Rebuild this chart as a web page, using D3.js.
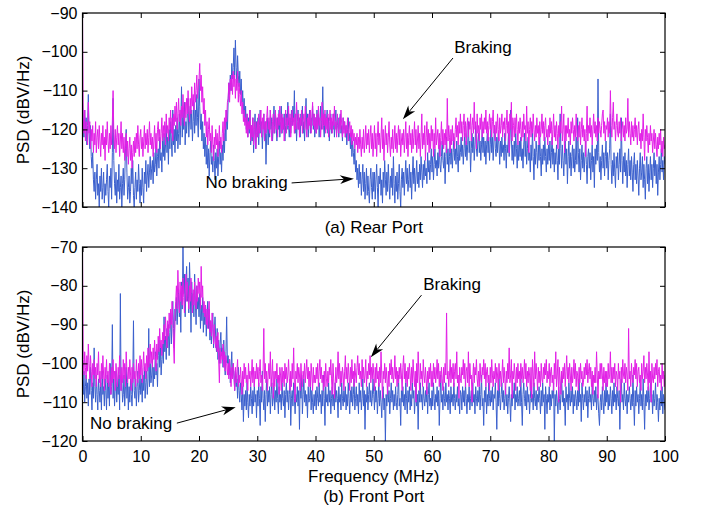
<!DOCTYPE html>
<html>
<head>
<meta charset="utf-8">
<script src="https://cdn.jsdelivr.net/npm/d3@7"></script>
<style>
  body { margin: 0; background: #fff; }
  text { font-family: "Liberation Sans", Arial, Helvetica, sans-serif; fill: #000; }
</style>
</head>
<body>
<svg id="chart" width="707" height="512"></svg>
<script>
// Each PSD trace is sampled evenly from 0 to FREQ_MAX MHz.
const FREQ_MAX = 100;
const xTicks = [0, 10, 20, 30, 40, 50, 60, 70, 80, 90, 100];
const rearYTicks = [-140, -130, -120, -110, -100, -90];
const frontYTicks = [-120, -110, -100, -90, -80, -70];

// Rear port, no braking (dBV/Hz), 0.125 MHz spacing
const rearNoBrake = [
  -113,-118,-122,-115,-120,-117,-124,-119, -111,-121,-125,-119,-127,-130,-126,-133, -136,-131,-138,-133,-129,-137,-134,-140, -132,-136,-130,-138,-135,-131,-139,-134, -137,-133,-129,-136,-140,-132,-135,-130,
  -138,-126,-112,-128,-134,-137,-131,-139, -133,-136,-129,-138,-135,-132,-140,-134, -130,-137,-133,-125,-120,-131,-138,-135, -132,-139,-136,-130,-134,-128,-137,-140, -135,-131,-138,-133,-136,-129,-134,-139,
  -133,-137,-130,-135,-139,-131,-134,-128, -136,-132,-129,-135,-131,-127,-133,-130, -128,-134,-126,-131,-129,-124,-132,-127, -125,-130,-122,-128,-126,-131,-123,-127, -121,-128,-124,-119,-126,-122,-129,-120,
  -125,-118,-123,-127,-115,-124,-120,-126, -119,-123,-117,-125,-121,-116,-124,-118, -109,-122,-115,-120,-113,-124,-118,-121, -116,-112,-122,-117,-114,-120,-115,-123, -118,-113,-121,-115,-119,-111,-117,-122,
  -107,-114,-120,-116,-123,-118,-125,-121, -127,-122,-129,-124,-130,-125,-132,-126, -123,-129,-127,-131,-124,-128,-133,-126, -130,-125,-132,-127,-123,-129,-126,-131, -124,-128,-121,-126,-118,-123,-115,-120,
  -113,-108,-111,-106,-110,-103,-107,-104, -99,-106,-97,-104,-108,-101,-106,-109, -105,-111,-107,-113,-110,-116,-112,-118, -114,-120,-116,-122,-117,-121,-115,-124, -119,-123,-117,-126,-120,-116,-125,-118,
  -122,-117,-124,-119,-115,-121,-118,-125, -120,-116,-123,-118,-129,-121,-117,-124, -118,-122,-115,-120,-117,-123,-119,-114, -121,-116,-119,-123,-117,-120,-115,-122, -118,-114,-121,-117,-120,-116,-123,-119,
  -116,-120,-113,-119,-122,-117,-121,-115, -119,-114,-118,-110,-121,-116,-123,-118, -115,-120,-117,-122,-116,-119,-114,-121, -118,-123,-117,-112,-120,-116,-122,-118, -115,-121,-117,-119,-114,-120,-116,-122,
  -117,-121,-115,-119,-116,-122,-118,-114, -120,-117,-109,-119,-122,-116,-120,-118, -115,-121,-117,-123,-119,-116,-121,-118, -120,-116,-122,-118,-115,-121,-119,-117, -122,-118,-116,-121,-119,-123,-117,-120,
  -118,-122,-119,-124,-120,-117,-123,-121, -125,-121,-127,-123,-126,-129,-125,-131, -128,-133,-130,-135,-129,-134,-131,-137, -133,-129,-136,-131,-138,-134,-130,-137, -132,-136,-139,-133,-130,-135,-138,-131,
  -136,-131,-138,-133,-129,-135,-140,-132, -134,-130,-137,-133,-139,-131,-135,-128, -133,-137,-131,-136,-129,-134,-138,-132, -135,-130,-137,-127,-134,-139,-132,-136, -131,-138,-134,-129,-136,-140,-133,-130,
  -135,-131,-137,-132,-128,-134,-130,-136, -133,-129,-135,-131,-138,-132,-127,-134, -130,-136,-132,-128,-134,-131,-135,-129, -133,-127,-131,-135,-129,-133,-128,-132, -130,-134,-126,-131,-128,-133,-129,-125,
  -131,-127,-133,-129,-125,-130,-128,-132, -126,-130,-124,-129,-131,-127,-123,-128, -130,-126,-134,-127,-122,-129,-125,-131, -127,-123,-129,-125,-130,-126,-122,-128, -125,-129,-123,-127,-131,-124,-128,-126,
  -122,-127,-124,-129,-125,-121,-127,-123, -128,-124,-118,-126,-123,-131,-125,-121, -126,-122,-128,-124,-119,-125,-127,-123, -121,-126,-123,-128,-124,-120,-126,-122, -127,-123,-129,-124,-121,-126,-122,-128,
  -124,-120,-126,-122,-128,-123,-119,-125, -127,-122,-126,-121,-124,-129,-123,-127, -122,-126,-124,-128,-121,-125,-130,-124, -126,-121,-127,-123,-115,-122,-128,-124, -129,-123,-127,-121,-125,-130,-124,-128,
  -123,-127,-122,-128,-125,-130,-124,-121, -127,-123,-129,-125,-122,-128,-126,-131, -124,-128,-120,-127,-133,-125,-129,-123, -126,-130,-124,-128,-122,-127,-132,-125, -129,-124,-128,-122,-127,-131,-125,-129,
  -124,-128,-123,-130,-126,-122,-129,-125, -131,-126,-129,-124,-128,-133,-125,-129, -116,-125,-130,-124,-128,-132,-126,-123, -129,-125,-134,-127,-123,-130,-126,-132, -127,-124,-130,-125,-131,-128,-122,-129,
  -117,-126,-131,-125,-133,-128,-124,-130, -126,-131,-127,-123,-129,-134,-127,-125, -130,-126,-133,-128,-124,-131,-127,-135, -125,-129,-124,-128,-107,-126,-131,-127, -133,-128,-124,-130,-126,-132,-127,-123,
  -130,-126,-133,-128,-125,-116,-129,-134, -128,-132,-126,-131,-135,-127,-130,-126, -133,-129,-125,-131,-117,-128,-134,-127, -131,-126,-132,-128,-135,-129,-125,-132, -128,-133,-127,-131,-136,-129,-126,-133,
  -129,-134,-128,-132,-137,-130,-126,-133, -131,-127,-135,-129,-133,-138,-130,-127, -134,-129,-136,-131,-127,-133,-129,-135, -130,-126,-132,-128,-134,-129,-137,-131, -127,-133,-129,-125,-131,-128,-133,-127,
  -129
];

// Rear port, braking (dBV/Hz), 0.125 MHz spacing
const rearBrake = [
  -90,-117,-121,-115,-123,-118,-120,-124, -113,-121,-118,-125,-120,-123,-119,-126, -121,-124,-118,-126,-122,-120,-125,-119, -123,-127,-121,-124,-119,-125,-122,-128, -120,-124,-118,-123,-126,-121,-125,-119,
  -124,-118,-110,-121,-125,-120,-126,-122, -119,-124,-121,-127,-123,-118,-125,-121, -126,-122,-128,-124,-121,-127,-123,-129, -125,-122,-128,-124,-130,-126,-123,-127, -122,-126,-121,-125,-119,-124,-127,-122,
  -120,-125,-122,-127,-123,-119,-125,-121, -124,-120,-126,-122,-118,-124,-121,-125, -122,-127,-123,-119,-125,-121,-126,-120, -118,-123,-120,-125,-121,-117,-123,-119, -122,-118,-124,-116,-121,-119,-123,-117,
  -120,-115,-121,-117,-123,-116,-119,-114, -118,-113,-120,-116,-112,-118,-115,-119, -114,-117,-111,-116,-119,-113,-117,-112, -116,-110,-115,-118,-112,-116,-109,-114, -111,-115,-108,-113,-110,-106,-112,-109,
  -107,-103,-110,-106,-113,-109,-116,-112, -119,-115,-122,-118,-124,-120,-117,-123, -121,-126,-119,-124,-128,-122,-125,-120, -124,-121,-127,-123,-119,-125,-122,-126, -121,-118,-123,-117,-120,-115,-118,-113,
  -112,-108,-113,-107,-110,-106,-111,-105, -109,-106,-112,-107,-110,-105,-113,-108, -111,-114,-110,-116,-113,-118,-115,-119, -117,-121,-116,-122,-118,-120,-115,-123, -119,-122,-117,-124,-120,-118,-125,-121,
  -118,-122,-116,-121,-119,-115,-122,-117, -120,-116,-123,-118,-121,-117,-114,-120, -117,-121,-115,-119,-123,-118,-116,-121, -119,-115,-120,-117,-122,-116,-119,-114, -118,-121,-116,-120,-117,-123,-119,-115,
  -121,-117,-119,-114,-120,-116,-122,-118, -115,-119,-117,-121,-116,-120,-113,-118, -120,-116,-122,-117,-119,-115,-121,-118, -116,-120,-114,-119,-122,-117,-120,-116, -119,-115,-121,-117,-113,-119,-116,-120,
  -117,-121,-116,-120,-114,-119,-117,-122, -118,-113,-120,-116,-119,-115,-121,-117, -120,-116,-122,-118,-115,-120,-117,-121, -116,-119,-114,-120,-118,-122,-116,-119, -121,-117,-120,-115,-119,-122,-117,-121,
  -118,-122,-119,-121,-117,-123,-120,-118, -122,-119,-124,-120,-123,-121,-125,-122, -124,-121,-126,-122,-125,-120,-124,-127, -122,-125,-120,-126,-123,-119,-125,-121, -124,-120,-126,-122,-119,-125,-121,-127,
  -123,-119,-125,-121,-127,-122,-118,-124, -121,-126,-122,-117,-125,-120,-128,-123, -119,-124,-121,-126,-122,-118,-124,-127, -122,-125,-120,-126,-123,-119,-125,-121, -126,-122,-119,-124,-120,-127,-123,-121,
  -124,-120,-126,-122,-118,-125,-121,-127, -122,-119,-124,-121,-126,-120,-125,-122, -118,-124,-120,-126,-123,-119,-125,-121, -127,-122,-116,-125,-121,-124,-119,-128, -122,-118,-124,-120,-126,-121,-125,-119,
  -123,-120,-127,-121,-125,-117,-124,-122, -120,-125,-121,-127,-122,-118,-124,-120, -125,-121,-124,-120,-126,-112,-123,-119, -122,-126,-120,-124,-119,-123,-121,-125, -120,-117,-122,-119,-124,-118,-121,-116,
  -121,-118,-123,-119,-116,-122,-118,-124, -119,-117,-122,-118,-120,-116,-123,-119, -117,-121,-113,-120,-118,-125,-116,-121, -119,-123,-117,-120,-116,-122,-118,-121, -117,-120,-115,-121,-118,-123,-119,-116,
  -120,-117,-122,-118,-115,-121,-119,-123, -118,-121,-116,-120,-123,-117,-121,-119, -116,-122,-118,-120,-117,-123,-119,-115, -121,-118,-126,-116,-120,-113,-123,-117, -119,-122,-117,-121,-116,-120,-124,-118,
  -121,-117,-120,-123,-118,-122,-116,-120, -119,-123,-114,-121,-118,-126,-120,-117, -122,-118,-121,-116,-120,-123,-119,-122, -117,-121,-119,-124,-118,-122,-120,-116, -121,-118,-123,-119,-117,-122,-120,-124,
  -119,-122,-117,-121,-118,-124,-120,-116, -122,-119,-123,-118,-121,-125,-119,-122, -118,-121,-114,-123,-120,-116,-126,-119, -123,-119,-121,-117,-122,-120,-124,-118, -121,-117,-120,-123,-119,-122,-116,-121,
  -123,-119,-122,-118,-124,-120,-117,-122, -119,-123,-120,-127,-121,-114,-123,-119, -121,-117,-122,-119,-124,-120,-116,-121, -118,-122,-119,-123,-117,-121,-118,-120, -122,-119,-116,-115,-121,-118,-123,-119,
  -120,-117,-122,-118,-121,-110,-119,-122, -117,-113,-120,-118,-123,-119,-116,-121, -122,-118,-121,-117,-123,-120,-118,-122, -119,-123,-117,-121,-120,-112,-122,-118, -121,-124,-118,-122,-119,-123,-120,-117,
  -122,-119,-124,-120,-118,-123,-121,-125, -120,-123,-116,-122,-128,-120,-123,-119, -122,-126,-121,-124,-119,-123,-121,-126, -123,-120,-125,-121,-124,-127,-122,-125, -121,-124,-120,-126,-123,-127,-122,-125,
  -124
];

// Front port, no braking (dBV/Hz), 0.125 MHz spacing
const frontNoBrake = [
  -104,-108,-102,-110,-106,-103,-109,-105, -111,-104,-108,-101,-107,-112,-105,-109, -96,-106,-110,-103,-108,-112,-104,-107, -110,-105,-112,-102,-108,-106,-111,-104, -107,-112,-103,-109,-105,-111,-100,-108,
  -106,-90,-109,-104,-111,-106,-102,-110, -105,-108,-103,-112,-82,-107,-104,-110, -108,-103,-111,-106,-101,-109,-105,-112, -106,-110,-104,-108,-111,-105,-89,-107, -109,-104,-111,-106,-102,-110,-107,-103,
  -108,-104,-110,-103,-107,-101,-109,-105, -102,-108,-104,-91,-106,-100,-105,-103, -99,-106,-101,-104,-97,-103,-100,-106, -98,-94,-101,-96,-103,-99,-95,-100, -88,-97,-93,-99,-91,-96,-90,-98,
  -92,-87,-95,-89,-84,-91,-96,-86, -89,-83,-90,-85,-81,-88,-84,-92, -79,-86,-70,-82,-77,-88,-80,-75, -84,-78,-87,-74,-81,-92,-79,-85, -82,-88,-77,-84,-90,-80,-86,-83,
  -88,-82,-91,-85,-89,-83,-92,-87, -90,-85,-93,-88,-84,-91,-86,-94, -89,-95,-90,-87,-96,-92,-88,-94, -97,-91,-99,-94,-100,-95,-92,-98, -96,-101,-94,-99,-103,-97,-88,-100,
  -98,-103,-99,-105,-101,-97,-104,-100, -103,-107,-102,-106,-104,-109,-101,-107, -110,-105,-108,-112,-106,-115,-108,-111, -107,-112,-105,-110,-114,-108,-111,-106, -109,-113,-107,-111,-105,-110,-108,-114,
  -107,-111,-105,-109,-116,-106,-110,-102, -109,-112,-107,-115,-108,-104,-111,-107, -110,-106,-113,-108,-105,-111,-109,-106, -112,-107,-110,-104,-109,-113,-106,-110, -108,-112,-105,-109,-111,-107,-114,-108,
  -105,-110,-107,-112,-108,-104,-116,-109, -107,-111,-105,-109,-113,-108,-110,-106, -111,-107,-117,-105,-109,-103,-113,-108, -104,-110,-107,-111,-108,-114,-106,-110, -109,-105,-112,-107,-110,-113,-108,-111,
  -107,-112,-106,-109,-111,-105,-110,-108, -113,-107,-111,-103,-109,-116,-106,-110, -108,-111,-105,-110,-107,-113,-109,-106, -111,-108,-112,-105,-110,-107,-109,-114, -106,-110,-108,-112,-105,-109,-111,-107,
  -110,-106,-112,-108,-111,-105,-109,-113, -107,-110,-106,-111,-108,-104,-112,-109, -106,-111,-108,-113,-105,-110,-107,-112, -109,-104,-111,-107,-117,-108,-110,-106, -112,-108,-105,-110,-107,-111,-109,-104,
  -108,-112,-106,-110,-107,-113,-109,-105, -111,-107,-110,-114,-108,-106,-112,-109, -120,-108,-111,-106,-110,-107,-113,-109, -105,-110,-107,-112,-108,-111,-106,-110, -112,-108,-103,-111,-109,-116,-107,-110,
  -106,-111,-108,-112,-105,-109,-113,-107, -110,-106,-112,-108,-111,-105,-109,-107, -113,-109,-104,-111,-108,-117,-107,-110, -105,-110,-108,-112,-106,-109,-111,-107, -110,-106,-113,-108,-105,-111,-109,-112,
  -107,-111,-105,-109,-112,-108,-110,-106, -111,-107,-116,-109,-103,-110,-108,-112, -106,-109,-111,-105,-110,-108,-112,-107, -109,-113,-106,-110,-108,-111,-105,-109, -112,-108,-110,-106,-111,-109,-113,-107,
  -108,-112,-106,-110,-107,-111,-105,-109, -113,-108,-110,-106,-112,-109,-107,-111, -105,-110,-108,-113,-106,-109,-111,-107, -110,-106,-112,-108,-103,-111,-109,-116, -107,-110,-106,-113,-108,-111,-105,-109,
  -111,-107,-110,-106,-112,-108,-109,-105, -110,-117,-107,-111,-104,-109,-112,-108, -105,-110,-107,-112,-109,-106,-111,-108, -113,-109,-106,-110,-115,-108,-111,-107, -109,-105,-112,-108,-110,-106,-111,-109,
  -107,-111,-104,-110,-116,-108,-105,-109, -111,-107,-112,-106,-110,-108,-113,-109, -106,-110,-108,-112,-105,-109,-111,-107, -112,-108,-110,-106,-109,-113,-107,-111, -105,-110,-108,-117,-106,-109,-113,-108,
  -110,-106,-112,-108,-111,-107,-109,-105, -120,-108,-111,-107,-110,-113,-106,-109, -112,-108,-103,-110,-107,-111,-109,-116, -106,-110,-108,-112,-105,-109,-111,-107, -110,-106,-113,-108,-111,-107,-109,-112,
  -107,-111,-104,-110,-108,-115,-105,-109, -112,-108,-110,-106,-111,-107,-114,-109, -106,-110,-108,-112,-105,-109,-111,-107, -110,-106,-112,-108,-109,-113,-116,-110, -108,-112,-106,-110,-113,-107,-111,-105,
  -110,-107,-112,-108,-111,-106,-109,-113, -107,-111,-105,-110,-108,-112,-106,-109, -111,-107,-117,-108,-104,-110,-108,-112, -105,-109,-111,-107,-113,-108,-110,-106, -109,-112,-108,-111,-103,-110,-116,-107,
  -111,-106,-110,-108,-113,-109,-105,-111, -108,-112,-104,-110,-117,-108,-111,-107, -110,-106,-112,-109,-105,-110,-108,-113, -107,-111,-109,-105,-112,-108,-110,-115, -109,-112,-107,-111,-106,-113,-108,-110,
  -112
];

// Front port, braking (dBV/Hz), 0.125 MHz spacing
const frontBrake = [
  -70,-99,-103,-97,-101,-104,-98,-102, -95,-100,-104,-98,-102,-106,-100,-103, -99,-104,-101,-106,-100,-103,-97,-105, -102,-106,-100,-104,-98,-103,-107,-101, -104,-99,-105,-102,-106,-100,-103,-108,
  -101,-105,-99,-104,-102,-107,-100,-103, -106,-101,-104,-98,-103,-107,-101,-105, -99,-104,-100,-106,-97,-102,-105,-101, -104,-99,-103,-107,-101,-105,-100,-104, -102,-106,-99,-103,-105,-100,-104,-98,
  -103,-99,-105,-101,-97,-102,-100,-104, -98,-102,-96,-101,-99,-95,-100,-97, -101,-96,-99,-94,-98,-102,-95,-99, -93,-97,-91,-96,-94,-98,-92,-95, -90,-94,-88,-92,-96,-89,-93,-87,
  -91,-86,-90,-84,-89,-95,-100,-88, -84,-80,-86,-76,-82,-87,-79,-84, -80,-85,-78,-83,-87,-81,-77,-84, -79,-83,-86,-80,-84,-78,-82,-87, -81,-85,-79,-83,-86,-80,-84,-78,
  -82,-79,-86,-75,-83,-80,-87,-84, -88,-85,-90,-86,-91,-87,-84,-92, -89,-93,-87,-91,-95,-90,-94,-96, -93,-97,-92,-99,-105,-96,-100,-97, -99,-95,-101,-97,-102,-98,-100,-103,
  -100,-104,-99,-102,-106,-101,-104,-100, -103,-107,-101,-105,-102,-99,-106,-103, -105,-101,-104,-108,-102,-106,-100,-104, -101,-105,-103,-107,-100,-104,-102,-106, -103,-99,-105,-101,-106,-102,-104,-100,
  -104,-101,-106,-102,-99,-105,-103,-107, -102,-91,-104,-100,-105,-102,-107,-103, -100,-104,-97,-106,-103,-99,-109,-102, -106,-102,-104,-100,-105,-103,-108,-101, -103,-107,-101,-105,-102,-106,-100,-104,
  -101,-105,-103,-99,-104,-107,-102,-106, -100,-104,-96,-105,-110,-102,-104,-100, -105,-101,-103,-107,-100,-104,-106,-102, -104,-100,-105,-102,-99,-104,-101,-106, -102,-106,-100,-103,-107,-101,-105,-103,
  -105,-101,-104,-100,-106,-102,-99,-104, -101,-105,-103,-107,-102,-106,-100,-104, -106,-102,-105,-101,-103,-99,-104,-108, -100,-104,-109,-106,-101,-105,-103,-97, -104,-100,-106,-102,-105,-101,-103,-107,
  -102,-98,-104,-101,-105,-100,-103,-107, -101,-105,-99,-104,-102,-106,-100,-103, -105,-101,-98,-103,-100,-104,-102,-106, -99,-104,-101,-105,-103,-99,-106,-102, -104,-100,-103,-98,-105,-101,-104,-100,
  -103,-107,-101,-105,-100,-104,-102,-106, -101,-105,-97,-103,-109,-102,-104,-100, -105,-101,-104,-108,-102,-106,-100,-103, -99,-104,-101,-105,-103,-98,-104,-101, -106,-102,-105,-101,-104,-100,-103,-107,
  -101,-98,-104,-100,-105,-102,-106,-101, -104,-100,-103,-107,-101,-105,-99,-103, -106,-102,-110,-100,-105,-97,-103,-107, -100,-104,-102,-106,-99,-103,-105,-101, -104,-108,-102,-105,-101,-104,-100,-106,
  -102,-106,-100,-104,-101,-105,-103,-99, -104,-100,-106,-102,-105,-101,-104,-107, -101,-105,-100,-103,-87,-104,-102,-106, -103,-99,-105,-101,-104,-100,-106,-102, -100,-104,-97,-105,-103,-109,-101,-104,
  -105,-101,-103,-99,-104,-100,-106,-102, -101,-105,-97,-106,-100,-104,-103,-110, -104,-100,-105,-101,-103,-99,-104,-106, -102,-106,-100,-104,-105,-101,-103,-99, -104,-100,-106,-102,-101,-105,-103,-107,
  -101,-105,-99,-103,-106,-102,-104,-100, -105,-101,-103,-107,-100,-104,-102,-106, -103,-99,-105,-101,-104,-108,-102,-105, -100,-104,-96,-105,-103,-99,-109,-102, -104,-100,-103,-107,-101,-105,-100,-104,
  -102,-106,-100,-104,-101,-105,-103,-99, -104,-100,-106,-102,-105,-101,-103,-107, -101,-109,-99,-103,-106,-97,-104,-100, -103,-107,-101,-105,-102,-106,-100,-104, -105,-101,-104,-100,-103,-99,-105,-102,
  -104,-100,-106,-102,-101,-105,-103,-107, -100,-104,-97,-106,-103,-99,-110,-101, -104,-108,-102,-105,-101,-104,-100,-106, -102,-98,-104,-101,-105,-100,-103,-107, -101,-105,-103,-99,-104,-100,-106,-102,
  -103,-107,-101,-105,-100,-104,-102,-106, -105,-101,-104,-100,-103,-99,-105,-102, -100,-104,-101,-106,-102,-108,-103,-105, -101,-105,-97,-103,-109,-102,-104,-100, -104,-100,-103,-107,-101,-105,-102,-106,
  -102,-106,-100,-104,-103,-97,-105,-101, -105,-101,-104,-100,-106,-102,-103,-107, -100,-104,-102,-110,-101,-105,-99,-103, -104,-100,-105,-101,-103,-107,-91,-104, -102,-106,-100,-104,-105,-101,-103,-99,
  -104,-100,-106,-102,-101,-105,-103,-107, -100,-104,-102,-98,-105,-101,-104,-100, -103,-107,-97,-105,-102,-110,-100,-104, -105,-101,-104,-100,-103,-99,-106,-102, -101,-105,-103,-107,-100,-104,-102,-106,
  -103
];

const BLUE = "#3a5fcd";
const MAGENTA = "#e21fe6";

const svg = d3.select("#chart");
const xRange = [82.5, 665];

const panels = [
  {
    id: "rear", top: 13, bottom: 207, yTicks: rearYTicks,
    noBrake: rearNoBrake, brake: rearBrake, showXLabels: false,
    caption: "(a) Rear Port", captionY: 233,
    notes: [
      { text: "Braking", tx: 63.8, ty: -100.2, from: [63.6, -101.6], to: [55.0, -117.4] },
      { text: "No braking", tx: 21.1, ty: -135.1, from: [35.9, -133.8], to: [46.6, -132.7] }
    ]
  },
  {
    id: "front", top: 247, bottom: 441, yTicks: frontYTicks,
    noBrake: frontNoBrake, brake: frontBrake, showXLabels: true,
    caption: "(b) Front Port", captionY: 502,
    notes: [
      { text: "Braking", tx: 58.5, ty: -81.2, from: [58.2, -82.4], to: [49.5, -98.4] },
      { text: "No braking", tx: 1.3, ty: -116.9, from: [16.2, -115.4], to: [26.3, -111.3] }
    ]
  }
];

panels.forEach(p => {
  const x = d3.scaleLinear().domain([0, FREQ_MAX]).range(xRange);
  const y = d3.scaleLinear()
    .domain([d3.min(p.yTicks), d3.max(p.yTicks)])
    .range([p.bottom, p.top]);

  const g = svg.append("g");

  g.append("clipPath").attr("id", "clip-" + p.id)
    .append("rect")
    .attr("x", xRange[0]).attr("y", p.top)
    .attr("width", xRange[1] - xRange[0]).attr("height", p.bottom - p.top);

  const lineFor = arr => d3.line()
    .x((d, i) => x(i * FREQ_MAX / (arr.length - 1)))
    .y(d => y(d));

  const plot = g.append("g").attr("clip-path", "url(#clip-" + p.id + ")");
  [[p.noBrake, BLUE], [p.brake, MAGENTA]].forEach(([arr, color]) => {
    plot.append("path").datum(arr)
      .attr("d", lineFor(arr)).attr("fill", "none")
      .attr("stroke", color).attr("stroke-width", 1).attr("stroke-linejoin", "round");
  });

  const fmt = d => d < 0 ? "\u2212" + Math.abs(d) : String(d);

  // Inward ticks on all four sides
  const bottomAxis = d3.axisBottom(x).tickValues(xTicks).tickSizeInner(-5).tickSizeOuter(0)
    .tickPadding(10).tickFormat(p.showXLabels ? fmt : () => "");
  const topAxis = d3.axisTop(x).tickValues(xTicks).tickSizeInner(-5).tickSizeOuter(0).tickFormat(() => "");
  const leftAxis = d3.axisLeft(y).tickValues(p.yTicks).tickSizeInner(-5).tickSizeOuter(0)
    .tickPadding(5).tickFormat(fmt);
  const rightAxis = d3.axisRight(y).tickValues(p.yTicks).tickSizeInner(-5).tickSizeOuter(0).tickFormat(() => "");

  const axes = [
    g.append("g").attr("transform", `translate(0,${p.bottom})`).call(bottomAxis),
    g.append("g").attr("transform", `translate(0,${p.top})`).call(topAxis),
    g.append("g").attr("transform", `translate(${xRange[0]},0)`).call(leftAxis),
    g.append("g").attr("transform", `translate(${xRange[1]},0)`).call(rightAxis)
  ];
  axes.forEach(a => {
    a.select(".domain").remove();
    a.selectAll("line").attr("stroke", "#000").attr("stroke-width", 1);
    a.selectAll("text").style("font-size", "16px").attr("fill", "#000")
      .style("font-family", '"Liberation Sans", Arial, sans-serif');
  });

  g.append("rect")
    .attr("x", xRange[0]).attr("y", p.top)
    .attr("width", xRange[1] - xRange[0]).attr("height", p.bottom - p.top)
    .attr("fill", "none").attr("stroke", "#000").attr("stroke-width", 1.2);

  g.append("text")
    .attr("transform", `translate(29,${(p.top + p.bottom) / 2}) rotate(-90)`)
    .attr("text-anchor", "middle").style("font-size", "17px")
    .text("PSD (dBV/Hz)");

  g.append("text")
    .attr("x", (xRange[0] + xRange[1]) / 2).attr("y", p.captionY)
    .attr("text-anchor", "middle").style("font-size", "17px")
    .text(p.caption);

  // Annotation arrows with filled, notched heads
  p.notes.forEach(n => {
    g.append("text").attr("x", x(n.tx)).attr("y", y(n.ty))
      .style("font-size", "17px").text(n.text);
    const x1 = x(n.from[0]), y1 = y(n.from[1]);
    const x2 = x(n.to[0]), y2 = y(n.to[1]);
    const len = Math.hypot(x2 - x1, y2 - y1);
    const ux = (x2 - x1) / len, uy = (y2 - y1) / len;
    const nx = -uy, ny = ux;
    const L = 14, w = 4.5, notch = 10;
    g.append("line")
      .attr("x1", x1).attr("y1", y1)
      .attr("x2", x2 - notch * ux).attr("y2", y2 - notch * uy)
      .attr("stroke", "#000").attr("stroke-width", 1);
    const pts = [
      [x2, y2],
      [x2 - L * ux + w * nx, y2 - L * uy + w * ny],
      [x2 - notch * ux, y2 - notch * uy],
      [x2 - L * ux - w * nx, y2 - L * uy - w * ny]
    ];
    g.append("path").attr("d", "M" + pts.map(q => q.join(",")).join("L") + "Z")
      .attr("fill", "#000");
  });

  if (p.showXLabels) {
    g.append("text")
      .attr("x", (xRange[0] + xRange[1]) / 2).attr("y", 482)
      .attr("text-anchor", "middle").style("font-size", "17px")
      .text("Frequency (MHz)");
  }
});
</script>
</body>
</html>
